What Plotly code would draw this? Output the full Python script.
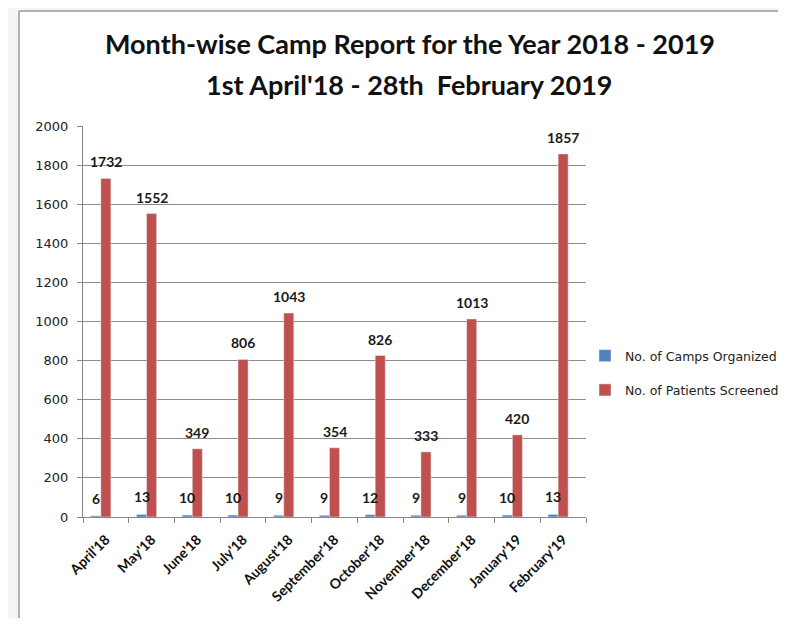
import plotly.graph_objects as go

months = ["April'18", "May'18", "June'18", "July'18", "August'18", "September'18",
          "October'18", "November'18", "December'18", "January'19", "February'19"]
camps = [6, 13, 10, 10, 9, 9, 12, 9, 9, 10, 13]
patients = [1732, 1552, 349, 806, 1043, 354, 826, 333, 1013, 420, 1857]
y_ticks = list(range(0, 2001, 200))

BLUE = "#4F81BD"
RED = "#C0504D"
BAR_W = 0.22
BLUE_OFF = -0.33
RED_OFF = -0.11

fig = go.Figure()
fig.add_trace(go.Bar(x=months, y=camps, name="No. of Camps Organized",
                     marker_color=BLUE, width=BAR_W, offset=BLUE_OFF,
                     legendgroup="a"))
fig.add_trace(go.Bar(x=months, y=patients, name="No. of Patients Screened",
                     marker_color=RED, width=BAR_W, offset=RED_OFF,
                     legendgroup="b"))

LBL_FONT = dict(family="Lato", size=14, color="#1a1a1a", weight="bold")
ann = []
for i, (c, p) in enumerate(zip(camps, patients)):
    ann.append(dict(x=i + BLUE_OFF + BAR_W / 2, y=c, xref="x", yref="y",
                    text=str(c), showarrow=False, yanchor="bottom", yshift=7,
                    font=LBL_FONT))
    ann.append(dict(x=i + RED_OFF + BAR_W / 2, y=p, xref="x", yref="y",
                    text=str(p), showarrow=False, yanchor="bottom", yshift=6,
                    font=LBL_FONT))

ann.append(dict(x=0.65, y=1.105, xref="paper", yref="paper",
                text="<b>1st April'18 - 28th  February 2019</b>", showarrow=False,
                xanchor="center", yanchor="middle",
                font=dict(family="Lato", size=27, color="#111")))

FX0 = (11 - 75) / 503
FY1 = (509 - 3) / 391
FRAME = dict(color="#9a9a9a", width=1.5)

W, H = 778, 610  # page body adds an 8px margin on every side

fig.update_layout(
    width=W, height=H,
    margin=dict(l=75, r=200, t=118, b=H - 118 - 391, autoexpand=False),
    paper_bgcolor="#f5f5f5", plot_bgcolor="white",
    barmode="overlay",
    title=dict(text="<b>Month-wise Camp Report for the Year 2018 - 2019</b>",
               x=402 / W, xanchor="center", y=1 - 37 / H, yanchor="middle",
               yref="container",
               font=dict(family="Lato", size=27, color="#111")),
    annotations=ann,
    showlegend=True,
    legend=dict(x=577 / W, xref="container", y=0.45, xanchor="left", yanchor="top",
                font=dict(family="DejaVu Sans", size=12.5, color="#222"),
                itemwidth=30, tracegroupgap=15, bgcolor="rgba(0,0,0,0)"),
    shapes=[
        dict(type="rect", xref="paper", yref="paper",
             x0=FX0, x1=2.5, y0=-1.0, y1=FY1,
             line=dict(width=0), fillcolor="white", layer="below"),
        dict(type="line", xref="paper", yref="paper",
             x0=FX0, x1=FX0, y0=-1.0, y1=FY1, line=FRAME, layer="below"),
        dict(type="line", xref="paper", yref="paper",
             x0=FX0, x1=2.5, y0=FY1, y1=FY1, line=FRAME, layer="below"),
    ],
)
fig.update_xaxes(type="category", tickson="boundaries", ticks="outside", ticklen=5,
                 tickcolor="#868686", showline=True, linecolor="#868686",
                 tickangle=-45, showgrid=False, ticklabelstandoff=8,
                 tickfont=dict(family="Lato", size=14, color="#111", weight="bold"),
                 range=[-0.5, len(months) - 0.5])
fig.update_yaxes(range=[0, 2000], tickvals=y_ticks, ticks="outside", ticklen=5,
                 tickcolor="#868686", showline=True, linecolor="#868686",
                 showgrid=True, gridcolor="#8c8c8c", gridwidth=1,
                 ticklabelstandoff=6,
                 tickfont=dict(family="DejaVu Sans", size=13, color="#222"),
                 zeroline=False)

fig.write_html("out.html")
